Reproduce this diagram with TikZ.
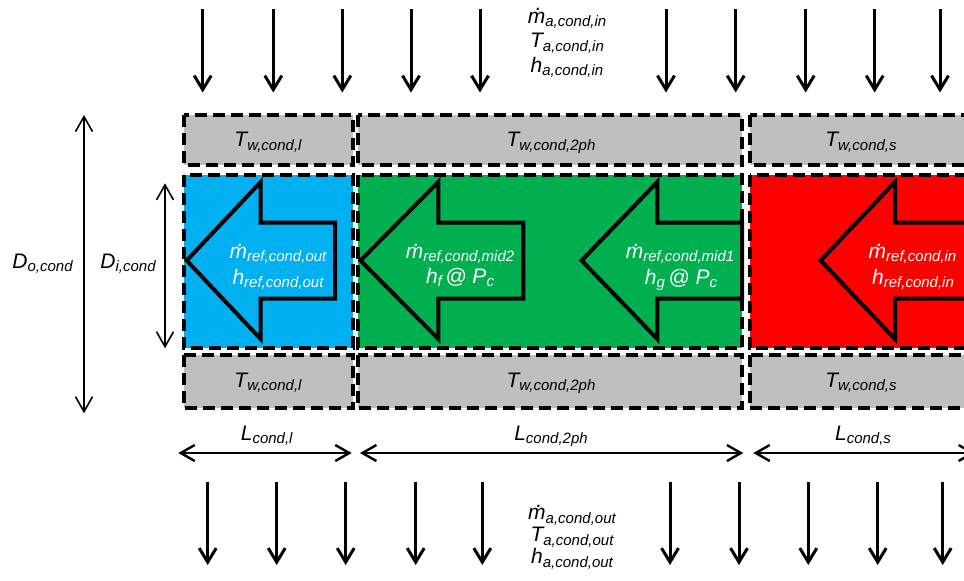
\documentclass[tikz,border=0pt]{standalone}
\usepackage{fontspec}
\setmainfont{Liberation Sans}
\usetikzlibrary{arrows.meta}

\definecolor{liqblue}{HTML}{00B0F0}
\definecolor{twogreen}{HTML}{00B050}
\definecolor{supred}{HTML}{FF0000}
\definecolor{wallgray}{HTML}{BFBFBF}

% symbol with a lowered, smaller subscript
\newcommand\sy[2]{#1\smash{\raisebox{-3.5pt}{\fontsize{15}{15}\selectfont #2}}}
% m with a dot above (mass flow rate)
\newcommand\mdt{\makebox[0pt][l]{\makebox[0.833em]{\hspace{0.22em}\smash{\raisebox{0.58em}{.}}}}m}

\tikzset{
  lbl/.style={font=\fontsize{21}{24}\selectfont\itshape, inner sep=0pt, anchor=base},
  wlbl/.style={lbl, text=white},
  wall/.style={fill=wallgray, draw=black, line width=4pt, dash pattern=on 12pt off 6pt},
  tube/.style={draw=black, line width=4pt, dash pattern=on 12pt off 6pt},
  blockarrow/.style={draw=black, line width=4pt, miter limit=10},
  airflow/.style={line width=3pt, -{Straight Barb[length=14pt,width=17pt]}},
  dimarr/.style={line width=1.6pt, {Straight Barb[length=15pt,width=17pt]}-{Straight Barb[length=15pt,width=17pt]}},
  lenarr/.style={line width=2.4pt, {Straight Barb[length=14pt,width=16pt]}-{Straight Barb[length=14pt,width=16pt]}},
}

\begin{document}
\begin{tikzpicture}[x=1pt, y=-1pt]
\useasboundingbox (0,0) rectangle (964,581);
\clip (0,0) rectangle (964,581);

% tube wall segments (top and bottom)
\draw[wall] (184,115) rectangle (352.7,165);
\draw[wall] (358.3,115) rectangle (742,165);
\draw[wall] (749.5,115) rectangle (1000,165);
\draw[wall] (184,355) rectangle (352.7,408.3);
\draw[wall] (358.3,355) rectangle (742,408.3);
\draw[wall] (749.5,355) rectangle (1000,408.3);

% refrigerant regions
\draw[tube, fill=liqblue]  (184,175) rectangle (352.7,348.3);
\draw[tube, fill=twogreen] (358.3,175) rectangle (742,348.3);
\draw[tube, fill=supred]   (749.5,175) rectangle (1000,348.3);

% refrigerant flow arrows (pointing left)
\draw[blockarrow, fill=liqblue]
  (186.7,260.5) -- (260.7,182) -- (260.7,222.5) -- (335,222.5)
  -- (335,298.5) -- (260.7,298.5) -- (260.7,339) -- cycle;
\draw[blockarrow, fill=twogreen]
  (360.5,260.5) -- (438.3,182) -- (438.3,222.5) -- (523.3,222.5)
  -- (523.3,298.5) -- (438.3,298.5) -- (438.3,339) -- cycle;
\draw[blockarrow, fill=twogreen]
  (581.7,260.5) -- (657.3,182) -- (657.3,222.5) -- (742,222.5)
  -- (742,298.5) -- (657.3,298.5) -- (657.3,339) -- cycle;
\draw[blockarrow, fill=supred]
  (820.7,260.5) -- (895,182) -- (895,222.5) -- (1010,222.5)
  -- (1010,298.5) -- (895,298.5) -- (895,339) -- cycle;

% wall temperatures
\node[lbl] (twl1) at (268,146.7) {\sy{T}{w,cond,l}};
\node[lbl] (tw2p1) at (551,146.7) {\sy{T}{w,cond,2ph}};
\node[lbl] (tws1) at (861,146.7) {\sy{T}{w,cond,s}};
\node[lbl] (twl2) at (268,387.3) {\sy{T}{w,cond,l}};
\node[lbl] (tw2p2) at (551,387.3) {\sy{T}{w,cond,2ph}};
\node[lbl] (tws2) at (861,387.3) {\sy{T}{w,cond,s}};

% refrigerant states
\node[wlbl] (mout) at (278,258.3) {\sy{\mdt}{ref,cond,out}};
\node[wlbl] (hout) at (278,284.3) {\sy{h}{ref,cond,out}};
\node[wlbl] (mmid2) at (460,258.3) {\sy{\mdt}{ref,cond,mid2}};
\node[wlbl] (hf) at (460,283) {\sy{h}{f}\,@ \sy{P}{c}};
\node[wlbl] (mmid1) at (680,258.3) {\sy{\mdt}{ref,cond,mid1}};
\node[wlbl] (hg) at (681,284.3) {\sy{h}{g}\,@ \sy{P}{c}};
\node[wlbl] (min) at (912.5,258.3) {\sy{\mdt}{ref,cond,in}};
\node[wlbl] (hin) at (913,284.3) {\sy{h}{ref,cond,in}};

% air inlet and outlet states
\node[lbl] (ma1) at (567,23) {\sy{\mdt}{a,cond,in}};
\node[lbl] (ta1) at (567,47.5) {\sy{T}{a,cond,in}};
\node[lbl] (ha1) at (567,72) {\sy{h}{a,cond,in}};
\node[lbl] (ma2) at (572,519.5) {\sy{\mdt}{a,cond,out}};
\node[lbl] (ta2) at (572,541.7) {\sy{T}{a,cond,out}};
\node[lbl] (ha2) at (572,563.8) {\sy{h}{a,cond,out}};

% air flow arrows
\foreach \x [count=\i] in {202.7,273.3,342.3,411,480,666,735.7,805.7,874.7,940}{
  \coordinate (ti\i) at (\x,9);
  \coordinate (to\i) at (\x,92.5);
  \draw[airflow] (ti\i) -- (to\i);
}
\foreach \x [count=\i] in {207.7,276.7,345.7,415.7,482.3,670,739,808.3,877.7,942.7}{
  \coordinate (bi\i) at (\x,482);
  \coordinate (bo\i) at (\x,565);
  \draw[airflow] (bi\i) -- (bo\i);
}

% diameters
\coordinate (dot) at (84,115);
\coordinate (dob) at (84,413.3);
\draw[dimarr] (dot) -- (dob);
\node[lbl] (dolbl) at (42.5,268) {\sy{D}{o,cond}};
\coordinate (dit) at (165,183.3);
\coordinate (dib) at (165,348.3);
\draw[dimarr] (dit) -- (dib);
\node[lbl] (dilbl) at (128,268) {\sy{D}{i,cond}};

% section lengths
\coordinate (l1a) at (178.3,453); \coordinate (l1b) at (351.7,453);
\coordinate (l2a) at (360,453);   \coordinate (l2b) at (743.3,453);
\coordinate (l3a) at (753.3,453); \coordinate (l3b) at (975,453);
\draw[lenarr] (l1a) -- (l1b);
\draw[lenarr] (l2a) -- (l2b);
\draw[lenarr] (l3a) -- (l3b);
\node[lbl] (ll) at (266.7,440) {\sy{L}{cond,l}};
\node[lbl] (l2p) at (551,440) {\sy{L}{cond,2ph}};
\node[lbl] (ls) at (863,440) {\sy{L}{cond,s}};
\end{tikzpicture}
\end{document}
